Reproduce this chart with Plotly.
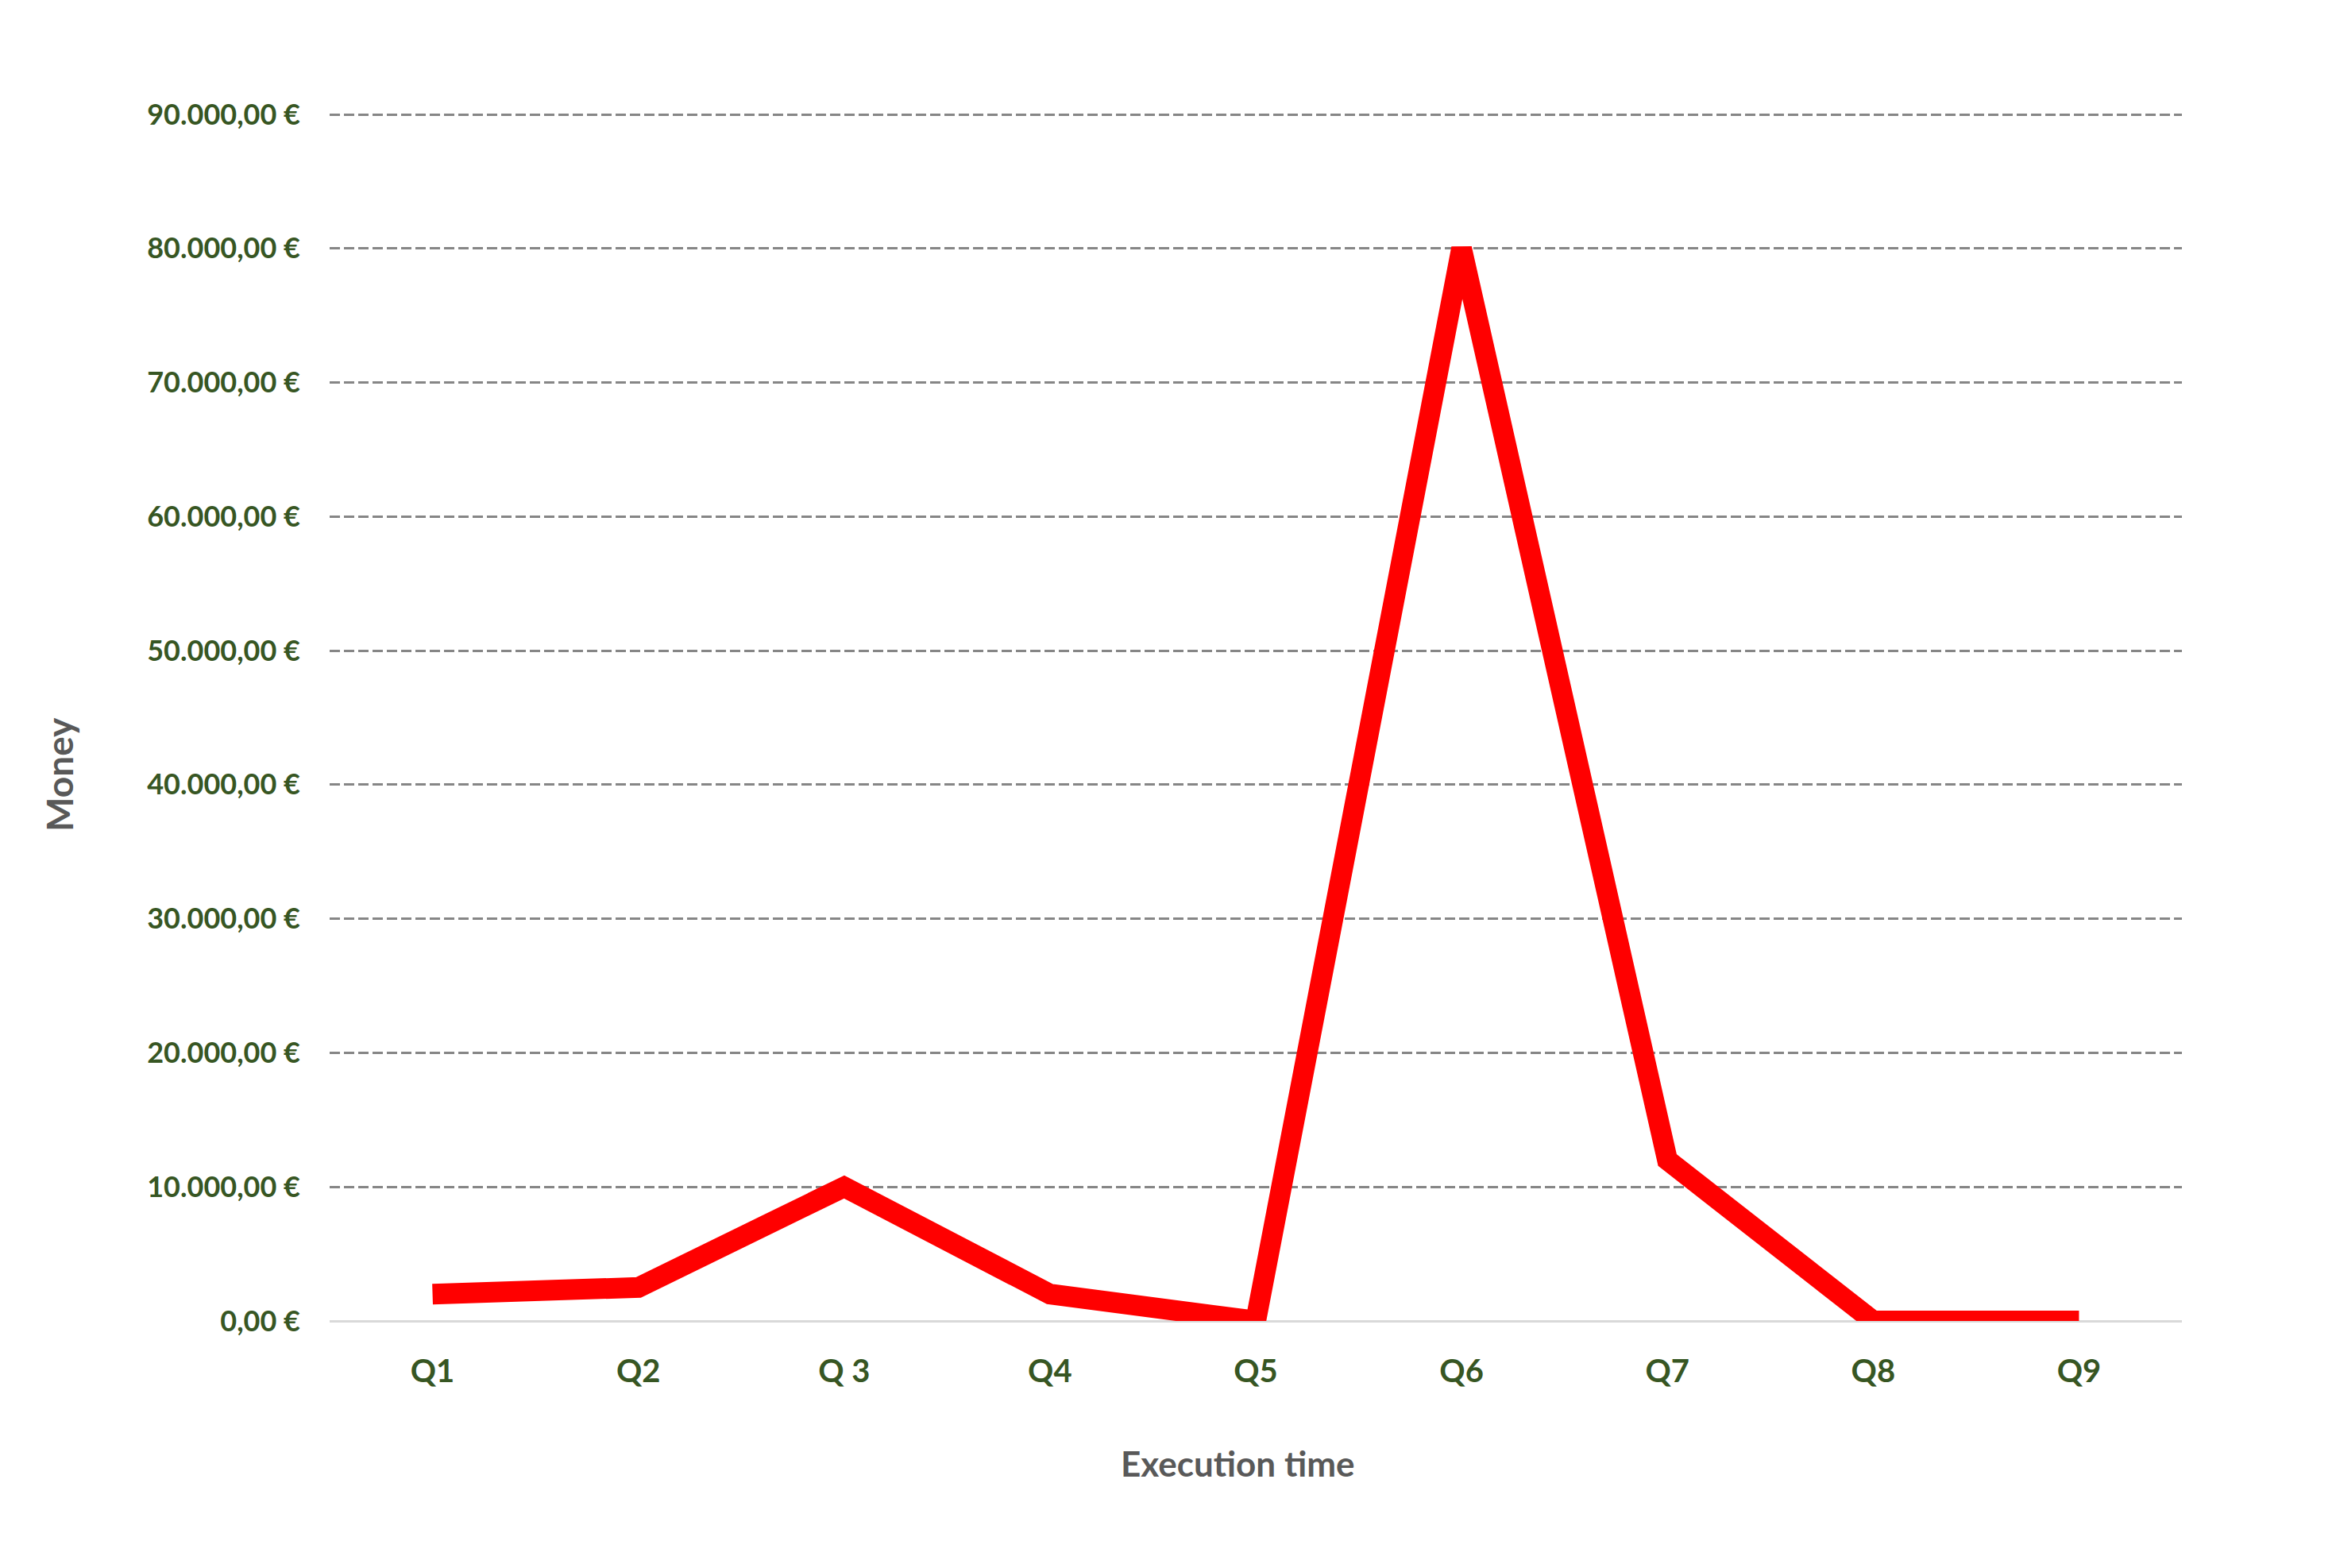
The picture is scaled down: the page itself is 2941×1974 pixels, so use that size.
import plotly.graph_objects as go

categories = ["Q1", "Q2", "Q 3", "Q4", "Q5", "Q6", "Q7", "Q8", "Q9"]
money = [2000, 2500, 10000, 2000, 0, 80000, 12000, 0, 0]
y_ticks = [0, 10000, 20000, 30000, 40000, 50000, 60000, 70000, 80000, 90000]
y_tick_text = ["0,00 €", "10.000,00 €", "20.000,00 €", "30.000,00 €", "40.000,00 €",
               "50.000,00 €", "60.000,00 €", "70.000,00 €", "80.000,00 €", "90.000,00 €"]

OFF = 8  # default page margin
plot_left, plot_right = 415, 2747
y_top_grid, y_zero = 144, 1663
plot_top = 137
ymax = 90000 * (y_zero - plot_top) / (y_zero - y_top_grid)

W, H = 2941 - OFF, 1974 - OFF
L, R, T, B = plot_left - OFF, 2941 - plot_right, plot_top - OFF, 1974 - y_zero
pw, ph = plot_right - plot_left, y_zero - plot_top

green = "#375623"
grey_title = "#595959"
font_family = "Lato, Carlito, Calibri, sans-serif"

fig = go.Figure()
fig.add_trace(go.Scatter(
    x=list(range(len(categories))), y=money, mode="lines",
    line=dict(color="#FF0000", width=26),
    hoverinfo="skip", showlegend=False,
))

fig.update_layout(
    width=W, height=H,
    margin=dict(l=L, r=R, t=T, b=B, pad=0),
    paper_bgcolor="white", plot_bgcolor="white",
    showlegend=False,
    font=dict(family=font_family),
)
fig.update_xaxes(
    range=[-0.5, len(categories) - 0.5],
    tickmode="array", tickvals=list(range(len(categories))), ticktext=categories,
    showgrid=False, zeroline=False, showline=False, ticks="",
    ticklabelstandoff=36,
    tickfont=dict(family=font_family, size=40, color=green, weight="bold"),
)
fig.update_yaxes(
    range=[0, ymax],
    tickmode="array", tickvals=y_ticks, ticktext=y_tick_text,
    showgrid=True, gridcolor="#868686", gridwidth=3, griddash="13px,5px",
    zeroline=True, zerolinecolor="#D9D9D9", zerolinewidth=3,
    showline=False, ticks="",
    ticklabelstandoff=36,
    tickfont=dict(family=font_family, size=36, color=green, weight="bold"),
)

fig.add_annotation(
    text="<b>Money</b>", xref="paper", yref="paper",
    x=(74 - plot_left) / pw, y=(y_zero - 975) / ph,
    textangle=-90, showarrow=False, xanchor="center", yanchor="middle",
    font=dict(family=font_family, size=46, color=grey_title),
)
fig.add_annotation(
    text="<b>Execution time</b>", xref="paper", yref="paper",
    x=(1558 - plot_left) / pw, y=(y_zero - 1842) / ph,
    showarrow=False, xanchor="center", yanchor="middle",
    font=dict(family=font_family, size=44, color=grey_title),
)

fig.write_html("out.html")
